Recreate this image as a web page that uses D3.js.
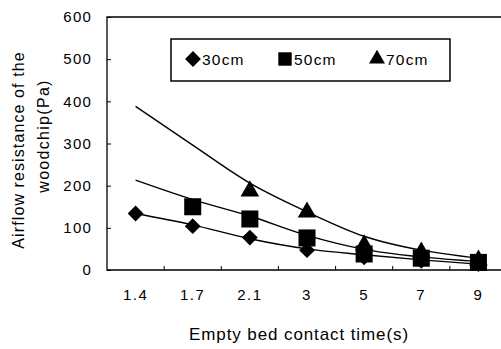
<!DOCTYPE html>
<html>
<head>
<meta charset="utf-8">
<script src="https://cdn.jsdelivr.net/npm/d3@7"></script>
<style>
  body { margin: 0; background: #fff; }
  svg text { font-family: "Liberation Sans", Arial, sans-serif; fill: #000; }
</style>
</head>
<body>
<div class="chart"></div>
<script>
// Data
var categories = ["1.4", "1.7", "2.1", "3", "5", "7", "9"];
var yTicks = [0, 100, 200, 300, 400, 500, 600];
var seriesNames = ["30cm", "50cm", "70cm"];

// measured points (null = no marker)
var points30 = [134, 104, 77, 47, 30, 22, 14];
var points50 = [null, 150, 121, 76, 38, 28, 18];
var points70 = [null, null, 192, 142, 64, 47, 28];

// trend lines, read at each category
var trend30 = [134, 107, 74, 50, 36, 24, 14];
var trend50 = [213, 167, 128, 82, 49, 31, 20];
var trend70 = [388, 296, 206, 138, 80, 47, 28];

var svgWidth = 501;
var svgHeight = 349;
var margin = { top: 17, left: 107 };
var width = 400;
var height = 253;

var svg = d3.select(".chart")
    .append("svg")
    .attr("width", svgWidth)
    .attr("height", svgHeight);

var chart = svg.append("g")
    .attr("transform", "translate(" + margin.left + "," + margin.top + ")");

var xScale = d3.scaleBand().domain(categories).range([0, width]);
var yScale = d3.scaleLinear().domain([0, 600]).range([height, 0]);

// frame: top, left, bottom
chart.append("path")
    .attr("d", "M" + width + ",0H0V" + height + "H" + width)
    .attr("fill", "none")
    .attr("stroke", "#000")
    .attr("stroke-width", 1.3);

// y axis, ticks pointing inward
var leftAxis = d3.axisLeft(yScale).tickValues(yTicks).tickSizeInner(-4).tickSizeOuter(0).tickPadding(15);
var yAxisG = chart.append("g").call(leftAxis);
yAxisG.select(".domain").remove();
yAxisG.selectAll("text")
    .attr("font-size", 15)
    .attr("letter-spacing", 1.2)
    .attr("font-family", "Liberation Sans, Arial, sans-serif");

// x axis: ticks between categories, pointing up
var boundaries = categories.slice(1).map(function (c) { return xScale(c); });
chart.append("g").selectAll("line")
    .data(boundaries)
    .enter()
    .append("line")
    .attr("x1", function (d) { return d; })
    .attr("x2", function (d) { return d; })
    .attr("y1", height)
    .attr("y2", height - 4)
    .attr("stroke", "#000");

chart.append("g").selectAll("text")
    .data(categories)
    .enter()
    .append("text")
    .attr("x", function (d) { return xScale(d) + xScale.bandwidth() / 2; })
    .attr("y", height + 30)
    .attr("text-anchor", "middle")
    .attr("font-size", 15)
    .attr("letter-spacing", 1.5)
    .text(function (d) { return d; });

// trend lines
var line = d3.line()
    .x(function (d, i) { return xScale(categories[i]) + xScale.bandwidth() / 2; })
    .y(function (d) { return yScale(d); })
    .curve(d3.curveMonotoneX);

[trend30, trend50, trend70].forEach(function (t) {
    chart.append("path")
        .datum(t)
        .attr("d", line)
        .attr("fill", "none")
        .attr("stroke", "#000")
        .attr("stroke-width", 1.4);
});

// markers
var diamond = d3.symbol().type(d3.symbolSquare).size(125);
var square = d3.symbol().type(d3.symbolSquare).size(290);
var triangle = d3.symbol().type(d3.symbolTriangle).size(150);

function drawMarkers(values, sym, rotate, dy) {
    chart.append("g").selectAll("path")
        .data(values.map(function (v, i) { return { v: v, c: categories[i] }; })
            .filter(function (d) { return d.v !== null; }))
        .enter()
        .append("path")
        .attr("d", sym)
        .attr("transform", function (d) {
            return "translate(" + (xScale(d.c) + xScale.bandwidth() / 2) + "," + (yScale(d.v) + dy) + ")" +
                (rotate ? " rotate(45)" : "");
        })
        .attr("fill", "#000");
}

drawMarkers(points70, triangle, false, 2);
drawMarkers(points50, square, false, 0);
drawMarkers(points30, diamond, true, 0);

// legend
var legend = svg.append("g");
legend.append("rect")
    .attr("x", 171)
    .attr("y", 39)
    .attr("width", 279)
    .attr("height", 42)
    .attr("fill", "#fff")
    .attr("stroke", "#000")
    .attr("stroke-width", 1.5);

var legendSyms = [diamond, square.size(180), triangle.size(110)];
seriesNames.forEach(function (name, i) {
    var x = 193 + i * 92;
    legend.append("path")
        .attr("d", legendSyms[i])
        .attr("transform", "translate(" + x + ",59)" + (i === 0 ? " rotate(45)" : ""))
        .attr("fill", "#000");
    legend.append("text")
        .attr("x", x + 9)
        .attr("y", 64.5)
        .attr("font-size", 15.5)
        .attr("letter-spacing", 1.2)
        .text(name);
});

// axis titles
svg.append("text")
    .attr("x", 299)
    .attr("y", 340)
    .attr("text-anchor", "middle")
    .attr("font-size", 17)
    .attr("letter-spacing", 0.9)
    .text("Empty bed contact time(s)");

svg.append("text")
    .attr("transform", "translate(24,150) rotate(-90)")
    .attr("text-anchor", "middle")
    .attr("font-size", 16)
    .attr("letter-spacing", 1.1)
    .text("Airflow resistance of the");

svg.append("text")
    .attr("transform", "translate(49,136) rotate(-90)")
    .attr("text-anchor", "middle")
    .attr("font-size", 16)
    .attr("letter-spacing", 1.3)
    .text("woodchip(Pa)");
</script>
</body>
</html>
